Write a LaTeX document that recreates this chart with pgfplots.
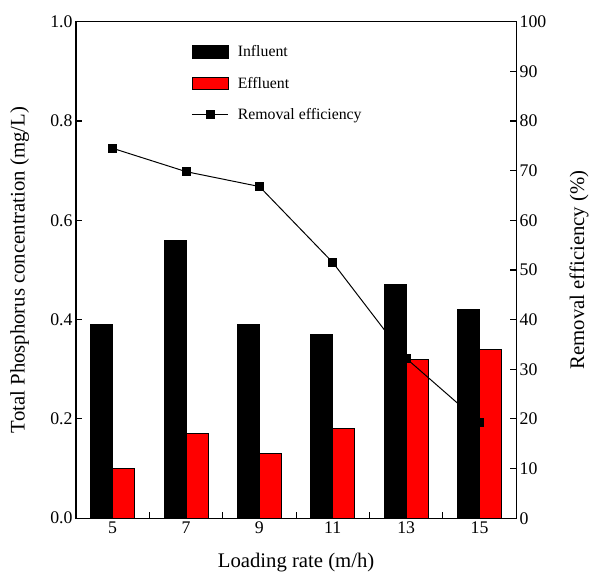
\documentclass[border=0pt]{standalone}
\usepackage{fontspec}
\setmainfont{Liberation Serif}
\usepackage{pgfplots}
\pgfplotsset{compat=1.18}
\pgfplotsset{
  barleg/.style={legend image code/.code={\draw[##1] (0pt,-6.5pt) rectangle (37pt,6.5pt);}},
  lineleg/.style={legend image code/.code={\draw[##1, mark=none] (0pt,0pt) -- (37pt,0pt); \draw[##1, only marks] plot coordinates {(18.5pt,0pt)};}},
}
\begin{document}
\begin{tikzpicture}
\pgfplotsset{
  every axis/.append style={
    width=446pt, height=503pt, scale only axis,
    xmin=4, xmax=16,
    axis line style={line width=1.3pt},
    tick style={line width=1.2pt, black},
    major tick length=6pt,
    /pgf/number format/assume math mode=true,
    tick label style={font=\fontsize{18}{20}\selectfont},
    label style={font=\fontsize{21}{24}\selectfont},
  }
}
\begin{axis}[
  ymin=0, ymax=1,
  ytick={0,0.2,0.4,0.6,0.8,1.0},
  yticklabel style={/pgf/number format/.cd, fixed, fixed zerofill, precision=1},
  ytick pos=left, xtick pos=bottom,
  xtick={6,8,10,12,14},
  xticklabels={},
  extra x ticks={5,7,9,11,13,15},
  extra x tick labels={5,7,9,11,13,15},
  extra x tick style={major tick length=0pt},
  xlabel={Loading rate (m/h)},
  ylabel={Total Phosphorus concentration (mg/L)},
  ylabel style={at={(axis description cs:-0.128,0.5)}, anchor=center},
  xlabel style={at={(axis description cs:0.5,-0.09)}, anchor=center},
  legend style={at={(axis description cs:0.255,0.96)}, anchor=north west, draw=none, fill=none,
    font=\fontsize{16}{18}\selectfont, row sep=15pt, column sep=7pt},
  legend cell align=left,
]
\addplot[ybar, bar width=0.6, bar shift=-0.3, fill=black, draw=black, line width=0.8pt, barleg]
  coordinates {(5,0.39) (7,0.56) (9,0.39) (11,0.37) (13,0.47) (15,0.42)};
\addlegendentry{Influent}
\addplot[ybar, bar width=0.6, bar shift=0.3, fill=red, draw=black, line width=0.8pt, barleg]
  coordinates {(5,0.10) (7,0.17) (9,0.13) (11,0.18) (13,0.32) (15,0.34)};
\addlegendentry{Effluent}
\addlegendimage{black, line width=1pt, mark=square*, mark size=4pt, lineleg}
\addlegendentry{Removal efficiency}
\end{axis}
\begin{axis}[
  axis y line*=right, axis x line=none,
  ymin=0, ymax=100,
  ytick={0,10,...,100},
  ylabel={Removal efficiency (\%)},
  ylabel style={at={(axis description cs:1.143,0.5)}, anchor=center},
]
\addplot[black, line width=1pt, mark=square*, mark size=4pt]
  coordinates {(5,74.5) (7,69.8) (9,66.8) (11,51.5) (13,32.2) (15,19.3)};
\end{axis}
\useasboundingbox (-77pt,-49pt) rectangle (515pt,525pt);
\end{tikzpicture}
\end{document}
